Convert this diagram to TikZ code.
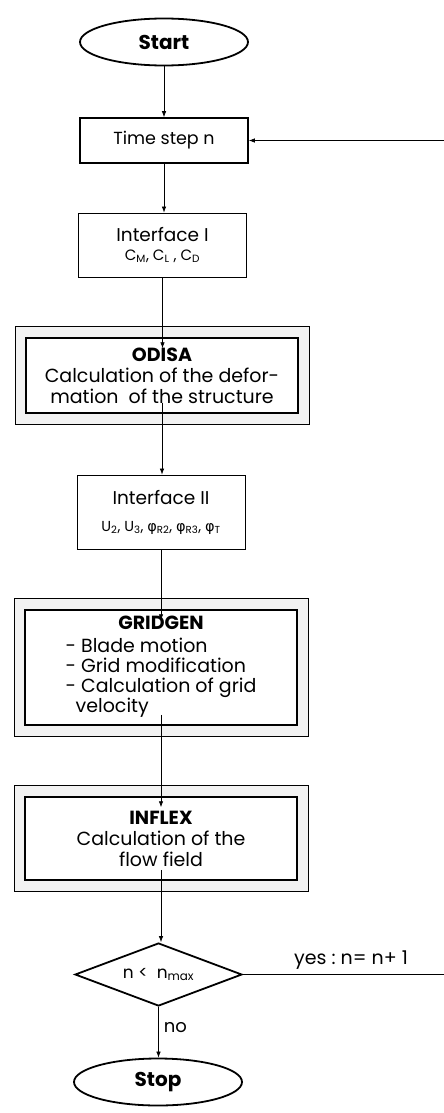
\documentclass[tikz,border=0pt]{standalone}
\usepackage{fontspec}
\setmainfont{Poppins}
\newfontfamily\grk{DejaVu Sans}
\usetikzlibrary{shapes.geometric,arrows.meta,backgrounds}
\begin{document}
\begin{tikzpicture}[x=1pt,y=-1pt,
  every node/.style={font=\fontsize{19}{22}\selectfont, align=center, inner sep=0pt},
  term/.style={ellipse, draw, line width=1.8pt, minimum width=168pt, minimum height=47pt, font=\fontsize{20}{22}\selectfont\bfseries},
  plainbox/.style={rectangle, draw, line width=0.8pt, minimum width=168pt},
  thickbox/.style={rectangle, draw, line width=1.6pt, minimum width=168pt, minimum height=45pt},
  innerbox/.style={rectangle, draw, line width=1.5pt, fill=white, minimum width=272pt},
  outerband/.style={draw, line width=0.6pt, fill=gray!10},
  decision/.style={diamond, aspect=2.65, draw, line width=1.8pt, minimum width=167pt, minimum height=63pt},
  arr/.style={draw, line width=0.7pt, -{Latex[length=6pt,width=4.5pt]}},
  lbl/.style={font=\fontsize{18}{20}\selectfont}
]
\useasboundingbox (0,0) rectangle (444,1113);

\node[term] (start) at (164,42) {Start};
\node[thickbox, font=\fontsize{17.5}{20}\selectfont] (ts) at (164,140.5) {Time step n};
\node[plainbox, minimum height=64pt, font=\fontsize{18.5}{21}\selectfont] (if1) at (162.5,245)
  {Interface I\\[-2pt] {\fontsize{15}{17}\selectfont C\textsubscript{M}, C\textsubscript{L} , C\textsubscript{D}}};
\node[innerbox, minimum height=75pt] (odisa) at (162,375.5)
  {\textbf{ODISA}\\[-1pt] Calculation of the defor-\\[-1pt] mation\ \ of the structure};
\node[plainbox, minimum height=74pt, font=\fontsize{18.5}{21}\selectfont] (if2) at (161,512)
  {Interface II\\[6pt] {\fontsize{14.5}{16}\selectfont U\textsubscript{2}, U\textsubscript{3}, {\grk φ}\textsubscript{R2}, {\grk φ}\textsubscript{R3}, {\grk φ}\textsubscript{T}}};
\node[innerbox, minimum height=115pt] (grid) at (161,667.5)
  {\textbf{GRIDGEN}\\[1pt]
   \begin{tabular}[t]{@{}l@{}}- Blade motion\\[-2pt] - Grid modification\\[-2pt] - Calculation of grid\\[-2pt] \ \ velocity\end{tabular}};
\node[innerbox, minimum height=83pt] (inflex) at (161,838.5)
  {\textbf{INFLEX}\\[-1pt] Calculation of the\\[-1pt] flow field};
\node[decision, font=\fontsize{17}{20}\selectfont] (dec) at (158.5,974.5) {n <\ \ n\textsubscript{max}};
\node[term] (stop) at (158,1082) {Stop};

\begin{scope}[on background layer]
  \foreach \n in {odisa,grid,inflex}{
    \draw[outerband] ([shift={(-10,-11)}]\n.north west) rectangle ([shift={(11,11)}]\n.south east);
  }
\end{scope}

\coordinate (loop) at (470,975);

\draw[arr] (start) -- (start |- ts.north);
\draw[arr] (ts) -- (ts |- if1.north);
\draw[arr] (if1) -- ([yshift=-11pt]if1 |- odisa.north);
\draw[arr] ([yshift=11pt]odisa.south) -- (odisa |- if2.north);
\draw[arr] (if2) -- ([yshift=-11pt]if2 |- grid.north);
\draw[arr] ([yshift=11pt]grid.south) -- ([yshift=-11pt]grid |- inflex.north);
\draw[arr] ([yshift=11pt]inflex.south) -- (inflex |- dec.north);
\draw[arr] (dec) -- (dec |- stop.north) node[lbl, pos=0.4, right=5pt] {no};
\draw[arr] (dec.east) -- (dec.east -| loop) |- (ts.east);
\node[lbl, font=\fontsize{19}{21}\selectfont] (yes) at (351,960) {yes :\ n= n+ 1};
\end{tikzpicture}
\end{document}
